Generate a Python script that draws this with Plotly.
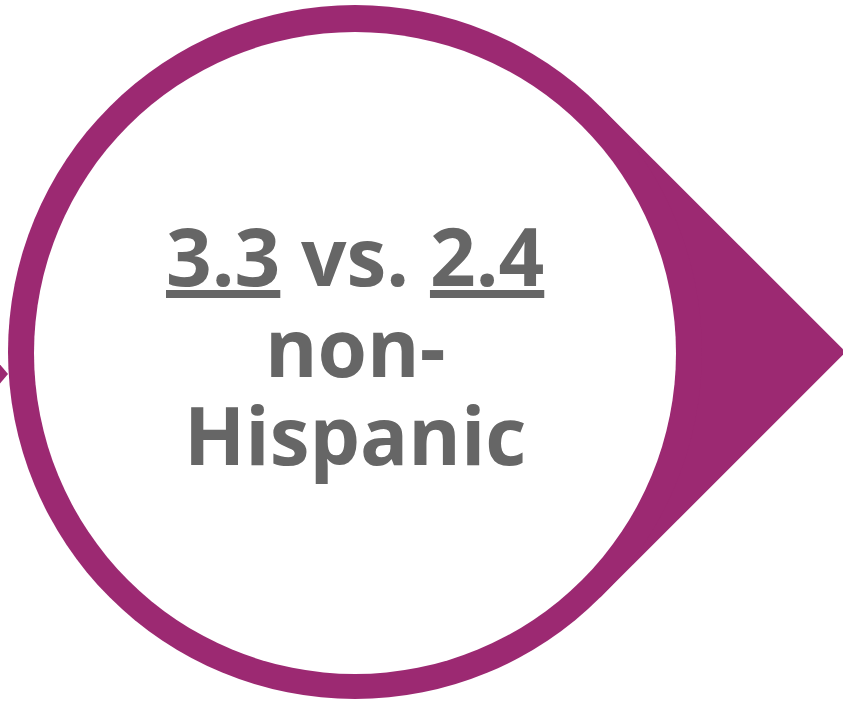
import plotly.graph_objects as go

# Values shown in the infographic
hispanic_value = 3.3
non_hispanic_value = 2.4
comparison_word = "vs."
group_lines = ["non-", "Hispanic"]

PURPLE = "#9C2972"
GREY = "#666666"

W, H = 843, 702
cx, cy = 355, 352
r_out = 347
r_in = 321
k = 0.70710678

fig = go.Figure()

shapes = []
# pointer (diamond-like tail to the right)
tx1, ty1 = cx + r_out * k, cy - r_out * k
tx2, ty2 = cx + r_out * k, cy + r_out * k
tip_x = cx + r_out * 1.41421356
shapes.append(dict(type="path", xref="x", yref="y",
                   path=f"M {cx},{cy} L {tx1},{ty1} L {tip_x},{cy} L {tx2},{ty2} Z",
                   fillcolor=PURPLE, line=dict(width=0), layer="below"))
shapes.append(dict(type="circle", xref="x", yref="y",
                   x0=cx - r_out, x1=cx + r_out, y0=cy - r_out, y1=cy + r_out,
                   fillcolor=PURPLE, line=dict(width=0), layer="below"))
shapes.append(dict(type="circle", xref="x", yref="y",
                   x0=cx - r_in, x1=cx + r_in, y0=cy - r_in + 1, y1=cy + r_in + 1,
                   fillcolor="white", line=dict(width=0), layer="below"))
# small left arrow
shapes.append(dict(type="path", xref="x", yref="y",
                   path="M -2,362 L 8,374 L -2,386 Z",
                   fillcolor=PURPLE, line=dict(width=0), layer="below"))

line1 = f"<u>{hispanic_value:.1f}</u> {comparison_word} <u>{non_hispanic_value:.1f}</u>"
lines = [line1] + group_lines
ys = [254, 345, 433]

annotations = []
for txt, y in zip(lines, ys):
    annotations.append(dict(x=cx, y=y, xref="x", yref="y", text=txt,
                            showarrow=False, xanchor="center", yanchor="middle",
                            font=dict(family="Open Sans", size=80, color=GREY, weight="bold")))

fig.update_layout(
    width=W, height=H,
    margin=dict(l=0, r=0, t=0, b=0),
    paper_bgcolor="white", plot_bgcolor="white",
    xaxis=dict(range=[0, W], visible=False, fixedrange=True),
    yaxis=dict(range=[H, 0], visible=False, fixedrange=True),
    shapes=shapes, annotations=annotations, showlegend=False,
)

fig.write_html("out.html", config={"displayModeBar": False},
               post_script="document.body.style.margin='0';document.body.style.overflow='hidden';")
